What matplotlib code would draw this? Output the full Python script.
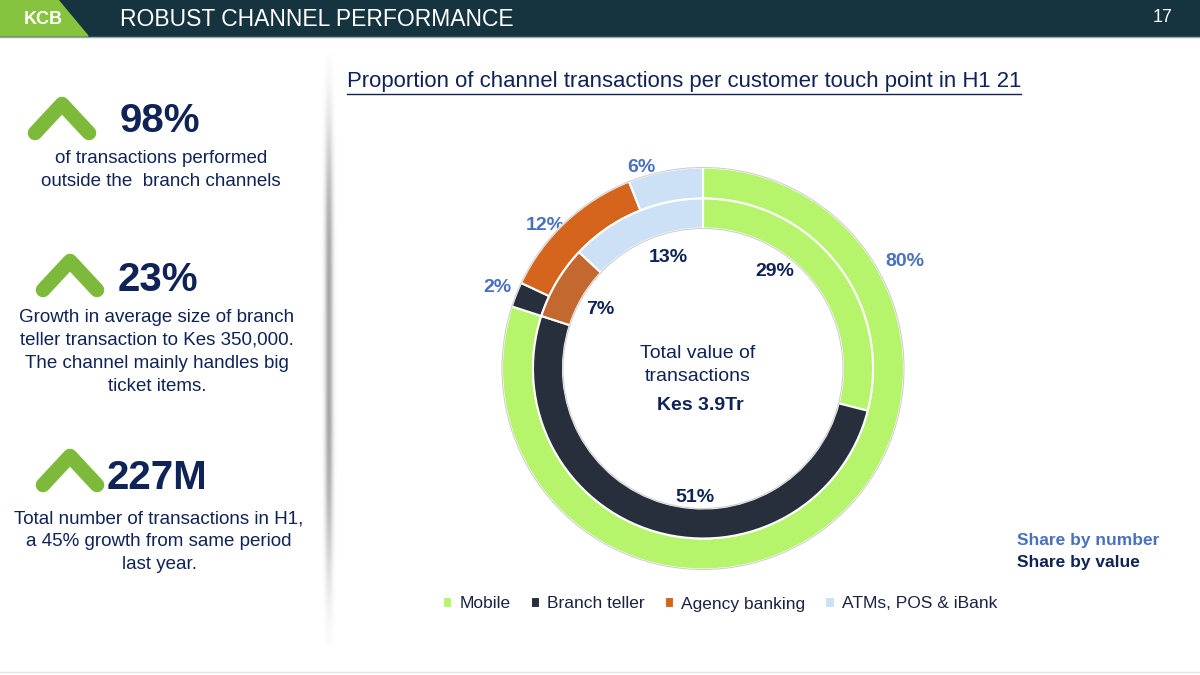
# KCB slide: proportion of channel transactions per touch point, H1 21
import numpy as np
import matplotlib
matplotlib.use("Agg")
import matplotlib.pyplot as plt

plt.rcParams['font.family'] = ['Liberation Sans', 'DejaVu Sans']

# data
channels = ['Mobile', 'Branch teller', 'Agency banking', 'ATMs, POS & iBank']
share_by_number = [80, 2, 12, 6]   # outer ring
share_by_value = [29, 51, 7, 13]   # inner ring
highlights = ['98%', '23%', '227M']
highlight_notes = [
    'of transactions performed\noutside the  branch channels',
    'Growth in average size of branch\nteller transaction to Kes 350,000.\nThe channel mainly handles big\nticket items.',
    'Total number of transactions in H1,\na 45% growth from same period\nlast year.',
]

# colours
NAVY = '#0F2357'
BLUE_LBL = '#4A70C0'
outer_colors = ['#B6F56B', '#262F3B', '#D5651C', '#CCE1F6']
inner_colors = ['#B6F56B', '#262F3B', '#C3692F', '#CCE1F6']

W, H = 1200, 675
fig = plt.figure(figsize=(12, 6.75), dpi=100)
bg = fig.add_axes([0, 0, 1, 1])
bg.set_xlim(0, W)
bg.set_ylim(H, 0)
bg.axis('off')

# header bar
bg.add_patch(plt.Rectangle((0, 0), W, 36, color='#15343F', zorder=1))
bg.plot([0, W], [37, 37], color='#9aa6ab', lw=1, zorder=1)
bg.add_patch(plt.Polygon([(0, 0), (58, 0), (88, 36), (0, 36)], color='#86C440', zorder=2))
bg.text(24, 19, 'KCB', color='white', fontsize=13, fontweight='bold', va='center', ha='left', zorder=3)
bg.text(120, 20, 'ROBUST CHANNEL PERFORMANCE', color='white', fontsize=16.5, va='center', ha='left')
bg.text(1163, 18, '17', color='white', fontsize=13, va='center', ha='center')

# bottom rule
bg.plot([0, W], [672, 672], color='#e4e4e4', lw=1)

# vertical shaded separator
ys = np.linspace(-1, 1, 200)[:, None]
xs = np.linspace(-1, 1, 30)[None, :]
shade = np.exp(-(xs / 0.4) ** 2) * np.exp(-(ys / 0.75) ** 4)
rgba = np.zeros(shade.shape + (4,))
rgba[..., :3] = 0.5
rgba[..., 3] = shade * 0.7
bg.imshow(rgba, extent=[319, 339, 645, 55], aspect='auto', zorder=1)

# left column highlights
chev_layout = [(62, 101, 120, 121, 161, 157), (70, 258, 118, 280, 157, 316), (70, 453, 107, 478, 159, 517)]
for (ax_, ay, nx, ny, tx, ty), big, note in zip(chev_layout, highlights, highlight_notes):
    bg.plot([ax_ - 27, ax_, ax_ + 27], [ay + 32, ay + 3, ay + 32], color='#7DBA3B', lw=10.5,
            solid_capstyle='round', solid_joinstyle='round')
    bg.text(nx, ny, big, color=NAVY, fontsize=29, fontweight='bold', va='center', ha='left')
    bg.text(tx, ty - 7, note, color=NAVY, fontsize=13.5, va='top', ha='center', linespacing=1.45)

# chart title
bg.text(347, 82, 'Proportion of channel transactions per customer touch point in H1 21',
        color=NAVY, fontsize=15.9, va='center', ha='left')
bg.plot([347, 1021], [94, 94], color=NAVY, lw=1)

# donut
cx, cy, R = 703, 368.5, 215
ax = fig.add_axes([(cx - R) / W, (H - cy - R) / H, 2 * R / W, 2 * R / H])
outer, _ = ax.pie(share_by_number, colors=outer_colors, radius=201, startangle=90, counterclock=False,
                  wedgeprops=dict(width=31, edgecolor='white', linewidth=1.5))
inner, _ = ax.pie(share_by_value, colors=inner_colors, radius=170, startangle=90, counterclock=False,
                  wedgeprops=dict(width=30, edgecolor='white', linewidth=1.5))
for r in (201, 140):
    ax.add_patch(plt.Circle((0, 0), r, fill=False, color='#d0d0d0', lw=0.8))
ax.set_xlim(-R, R)
ax.set_ylim(-R, R)
ax.set_aspect('equal')
ax.axis('off')

# ring labels (pixel positions of the slide)
outer_lbl_pos = [(905, 262), (497, 288), (545, 225), (641, 168)]
inner_lbl_pos = [(775, 272), (695, 497), (600, 310), (668, 258)]
for v, (x, y) in zip(share_by_number, outer_lbl_pos):
    bg.text(x, y, f'{v}%', color=BLUE_LBL, fontsize=14, fontweight='bold', ha='center', va='center', zorder=5)
for v, (x, y) in zip(share_by_value, inner_lbl_pos):
    bg.text(x, y, f'{v}%', color=NAVY, fontsize=14, fontweight='bold', ha='center', va='center', zorder=5)

# centre text
bg.text(698, 365, 'Total value of\ntransactions', color=NAVY, fontsize=14, ha='center', va='center', linespacing=1.4)
bg.text(700, 405, 'Kes 3.9Tr', color=NAVY, fontsize=14, fontweight='bold', ha='center', va='center')

# ring key
bg.text(1017, 541, 'Share by number', color=BLUE_LBL, fontsize=12.5, fontweight='bold', va='center', ha='left')
bg.text(1017, 562, 'Share by value', color=NAVY, fontsize=12.5, fontweight='bold', va='center', ha='left')

# legend
fig.legend(handles=outer, labels=channels, loc='center', bbox_to_anchor=(720 / W, 1 - 604 / H), ncol=4,
           frameon=False, handlelength=0.55, handleheight=0.55, handletextpad=0.4, columnspacing=1.15,
           fontsize=12.5, labelcolor='#1a2340')

fig.savefig('out.png', dpi=100)
